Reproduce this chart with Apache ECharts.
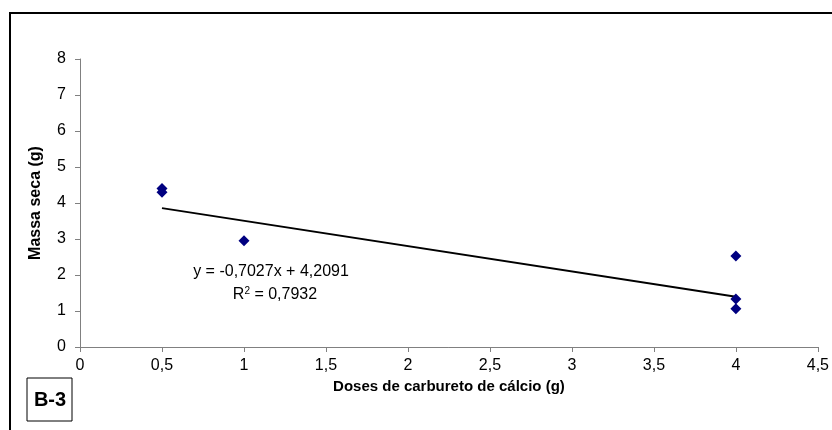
<!DOCTYPE html>
<html>
<head>
<meta charset="utf-8">
<script src="https://cdn.jsdelivr.net/npm/echarts@6/dist/echarts.min.js"></script>
<style>
html,body{margin:0;padding:0;background:#fff;}
#c{width:832px;height:430px;}
</style>
</head>
<body>
<div id="c"></div>
<script>
// Data
const doses = [0.5, 0.5, 1, 4, 4, 4];
const massa = [4.4, 4.3, 2.95, 2.53, 1.33, 1.06];
// Trendline as printed on the chart
const slope = -0.7027;
const intercept = 4.2091;
const trendX = [0.5, 4];
const eqLine1 = 'y = -0,7027x + 4,2091';
const r2Value = '0,7932';
const xTicks = { min: 0, max: 4.5, interval: 0.5 };
const yTicks = { min: 0, max: 8, interval: 1 };
const xName = 'Doses de carbureto de cálcio (g)';
const yName = 'Massa seca (g)';
const panelLabel = 'B-3';

const font = '"Liberation Sans", Arial, sans-serif';
const comma = v => String(v).replace('.', ',');

const chart = echarts.init(document.getElementById('c'), null, {renderer: 'canvas'});
chart.setOption({
  animation: false,
  backgroundColor: '#fff',
  textStyle: {fontFamily: font},
  grid: {left: 80, right: 13, top: 59, bottom: 83},
  xAxis: {
    type: 'value', min: xTicks.min, max: xTicks.max, interval: xTicks.interval,
    name: xName, nameLocation: 'middle', nameGap: 31,
    nameTextStyle: {fontFamily: font, fontWeight: 'bold', fontSize: 15, color: '#000'},
    axisLine: {show: true, onZero: false, lineStyle: {color: '#808080', width: 1}},
    axisTick: {show: true, inside: false, length: 5, lineStyle: {color: '#808080'}},
    axisLabel: {formatter: comma, fontFamily: font, fontSize: 16, color: '#000', margin: 11},
    splitLine: {show: false}
  },
  yAxis: {
    type: 'value', min: yTicks.min, max: yTicks.max, interval: yTicks.interval,
    name: yName, nameLocation: 'middle', nameGap: 36, nameRotate: 90,
    nameTextStyle: {fontFamily: font, fontWeight: 'bold', fontSize: 16, color: '#000'},
    axisLine: {show: true, lineStyle: {color: '#808080', width: 1}},
    axisTick: {show: true, inside: false, length: 5, lineStyle: {color: '#808080'}},
    axisLabel: {formatter: comma, fontFamily: font, fontSize: 16, color: '#000', margin: 14},
    splitLine: {show: false}
  },
  series: [
    {
      type: 'line',
      data: trendX.map(x => [x, slope * x + intercept]),
      symbol: 'none',
      lineStyle: {color: '#000', width: 2},
      z: 2
    },
    {
      type: 'scatter',
      data: doses.map((d, i) => [d, massa[i]]),
      symbol: 'diamond',
      symbolSize: 11,
      itemStyle: {color: '#000080', opacity: 1},
      z: 3
    }
  ],
  graphic: [
    {type: 'rect', shape: {x: 10, y: 13, width: 900, height: 500},
     style: {fill: 'none', stroke: '#000', lineWidth: 2}, silent: true},
    {type: 'rect', shape: {x: 27, y: 378, width: 45, height: 43},
     style: {fill: '#fff', stroke: '#000', lineWidth: 1}},
    {type: 'text', x: 50, y: 400, style: {text: panelLabel, font: 'bold 20px ' + font, fill: '#000', align: 'center', verticalAlign: 'middle'}},
    {type: 'text', x: 271, y: 272, style: {text: eqLine1, font: '16px ' + font, fill: '#000', align: 'center', verticalAlign: 'middle'}},
    {type: 'text', x: 275, y: 295, style: {
      text: 'R{sup|2} = ' + r2Value,
      font: '16px ' + font, fill: '#000', align: 'center', verticalAlign: 'middle',
      rich: {sup: {fontSize: 10, fontFamily: font, verticalAlign: 'top', padding: [0, 0, 8, 0]}}
    }}
  ]
});
</script>
</body>
</html>
